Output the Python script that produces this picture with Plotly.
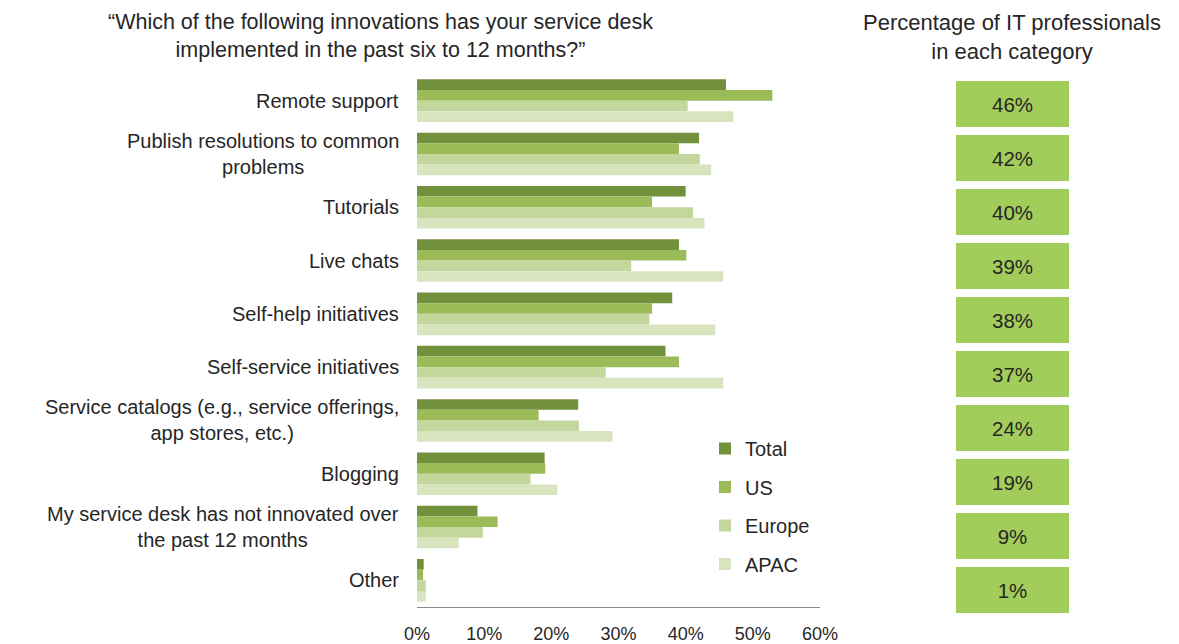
import plotly.graph_objects as go

# Survey categories, top to bottom
categories = [
    "Remote support",
    "Publish resolutions to common<br>problems",
    "Tutorials",
    "Live chats",
    "Self-help initiatives",
    "Self-service initiatives",
    "Service catalogs (e.g., service offerings,<br>app stores, etc.)",
    "Blogging",
    "My service desk has not innovated over<br>the past 12 months",
    "Other",
]

# Share of respondents (%) per region
total = [46, 42, 40, 39, 38, 37, 24, 19, 9, 1]
us = [52.9, 39.0, 35.0, 40.1, 35.0, 39.0, 18.1, 19.1, 12.0, 0.9]
europe = [40.3, 42.1, 41.1, 31.9, 34.6, 28.1, 24.1, 16.9, 9.8, 1.3]
apac = [47.1, 43.8, 42.8, 45.6, 44.4, 45.6, 29.1, 20.9, 6.2, 1.3]

series_names = ["Total", "US", "Europe", "APAC"]
series_values = [total, us, europe, apac]
series_colors = ["#72913D", "#9BBB59", "#C3D69B", "#D7E4BD"]

x_ticks = [0, 10, 20, 30, 40, 50, 60]
x_tick_labels = ["0%", "10%", "20%", "30%", "40%", "50%", "60%"]

W, H = 1179, 644
FONT = "Liberation Sans, Arial, sans-serif"
TEXT = "#262626"


def px_x(x):
    return x / W


def px_y(y):
    return 1 - y / H


fig = go.Figure()
for name, vals, col in zip(series_names, series_values, series_colors):
    fig.add_trace(go.Bar(
        name=name,
        y=categories,
        x=vals,
        orientation="h",
        marker=dict(color=col, line=dict(width=0)),
        legendgroup=name,
        hoverinfo="skip",
    ))

annotations = []

# Category labels, centre-aligned block to the left of the bars
for cat in categories:
    annotations.append(dict(
        xref="paper", yref="y", x=px_x(401), y=cat,
        xanchor="right", yanchor="middle", align="center",
        text=cat, showarrow=False,
        font=dict(family=FONT, size=20, color=TEXT),
    ))

# Titles
annotations.append(dict(
    xref="paper", yref="paper", x=px_x(380), y=px_y(8),
    xanchor="center", yanchor="top", align="center",
    text="\u201cWhich of the following innovations has your service desk<br>"
         "implemented in the past six to 12 months?\u201d",
    showarrow=False, font=dict(family=FONT, size=21.5, color=TEXT),
))
annotations.append(dict(
    xref="paper", yref="paper", x=px_x(1012), y=px_y(8),
    xanchor="center", yanchor="top", align="center",
    text="Percentage of IT professionals<br>in each category",
    showarrow=False, font=dict(family=FONT, size=22, color=TEXT),
))

# Right-hand column of percentage boxes
BOX_TOP = 76.9
BOX_PITCH = 53.96
for i, v in enumerate(total):
    annotations.append(dict(
        xref="paper", yref="paper",
        x=px_x(1012.5), y=px_y(BOX_TOP + BOX_PITCH * (i + 0.5)),
        xanchor="center", yanchor="middle",
        width=113, height=46, bgcolor="#A2CD5A",
        borderwidth=0, borderpad=0,
        text=f"{v}%", showarrow=False,
        font=dict(family=FONT, size=20.5, color=TEXT),
    ))

fig.update_layout(
    template="none",
    width=W, height=H,
    margin=dict(l=0, r=0, t=0, b=0, autoexpand=False),
    paper_bgcolor="white", plot_bgcolor="white",
    barmode="group", bargap=0.2, bargroupgap=0,
    font=dict(family=FONT, color=TEXT),
    xaxis=dict(
        domain=[px_x(417), px_x(820)],
        range=[0, 60], tickvals=x_ticks, ticktext=x_tick_labels,
        showgrid=False, zeroline=False, automargin=False,
        showline=True, linecolor="#8C8C8C", linewidth=1,
        ticks="", ticklabelstandoff=10,
        tickfont=dict(family=FONT, size=18, color=TEXT),
        fixedrange=True,
    ),
    yaxis=dict(
        domain=[px_y(607), px_y(74)],
        categoryorder="array", categoryarray=categories,
        autorange="reversed", automargin=False,
        showticklabels=False, showgrid=False, zeroline=False,
        showline=False, ticks="",
        fixedrange=True,
    ),
    legend=dict(
        x=px_x(705), y=px_y(429), xanchor="left", yanchor="top",
        traceorder="grouped", tracegroupgap=9.5,
        font=dict(family=FONT, size=20, color=TEXT),
        bgcolor="rgba(0,0,0,0)", borderwidth=0,
    ),
    annotations=annotations,
    showlegend=True,
)

fig.write_html("out.html")
